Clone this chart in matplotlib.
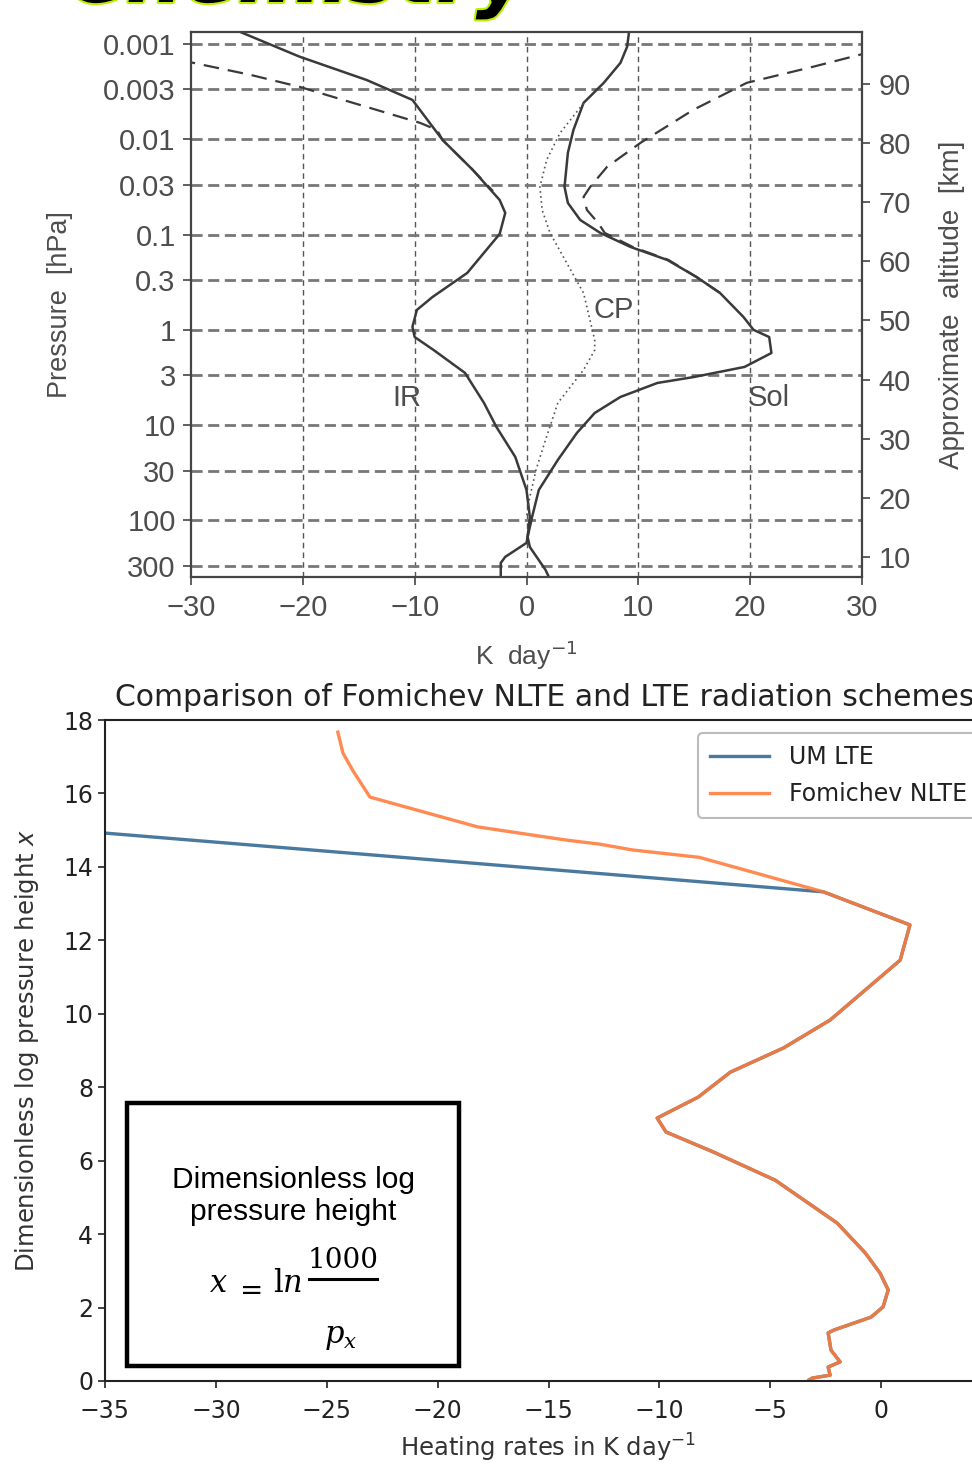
import matplotlib
matplotlib.use("Agg")
import matplotlib.pyplot as plt
from matplotlib import font_manager
from matplotlib.patches import Rectangle
from matplotlib.lines import Line2D
import matplotlib.patheffects as pe

# ---------------- data: top panel (heating rates vs pressure) ----------------
ir_p = [0.00070, 0.00136, 0.00239, 0.00387, 0.0102, 0.021, 0.0434, 0.0593, 0.0986,
        0.253, 0.452, 0.618, 0.93, 1.19, 1.63, 2.83, 5.85, 10.4, 21.6, 47.9, 91.8,
        149, 172, 241, 279, 392]
ir_x = [-26.2, -20.3, -14.3, -10.2, -7.5, -4.8, -2.4, -1.9, -2.4,
        -5.3, -8.4, -9.8, -10.2, -10.0, -8.3, -5.5, -3.8, -2.7, -1.0, 0.0, 0.3,
        0.1, 0.0, -1.9, -2.3, -2.3]

ir_nlte_p = [0.00148, 0.00158, 0.00211, 0.00282, 0.00406, 0.00556, 0.00675, 0.0080, 0.0102, 0.021, 0.035]
ir_nlte_x = [-31.0, -29.8, -24.7, -20.3, -15.8, -11.9, -9.5, -8.0, -7.5, -4.8, -3.0]

sol_p = [0.00070, 0.00107, 0.00158, 0.00257, 0.00416, 0.00798, 0.0139, 0.0316, 0.0466,
         0.0703, 0.0962, 0.135, 0.185, 0.279, 0.41, 0.733, 1.0, 1.19, 1.75, 2.45,
         3.12, 3.61, 5.06, 7.45, 12.1, 23.2, 47.9, 91.8, 149, 190, 330, 392]
sol_x = [9.2, 9.0, 8.4, 6.9, 5.1, 4.2, 3.7, 3.4, 3.7,
         4.8, 6.6, 9.3, 12.6, 15.2, 17.3, 19.4, 20.3, 21.7, 21.9, 19.5,
         15.0, 11.7, 8.4, 6.1, 4.5, 2.8, 1.1, 0.5, 0.1, 0.3, 1.7, 2.0]

sol_nlte_p = [0.00118, 0.0013, 0.00174, 0.00256, 0.00493, 0.0109, 0.0195, 0.0316, 0.0403,
              0.0552, 0.0755, 0.0962, 0.135, 0.185, 0.279, 0.41]
sol_nlte_x = [31.0, 29.8, 25.6, 19.7, 14.9, 10.2, 7.2, 5.7, 5.1,
              5.4, 6.4, 7.0, 9.5, 12.7, 15.2, 17.3]

cp_p = [0.0042, 0.0086, 0.0165, 0.0316, 0.0552, 0.0962, 0.199, 0.41, 1.28, 1.63,
        2.64, 5.85, 14.3, 29.5, 56.6, 91.8]
cp_x = [5.1, 3.0, 1.8, 1.2, 1.4, 2.1, 3.6, 5.1, 6.1, 6.1,
        5.1, 2.8, 1.7, 0.85, 0.3, 0.0]

p_ticks = [0.001, 0.003, 0.01, 0.03, 0.1, 0.3, 1, 3, 10, 30, 100, 300]
p_labels = ["0.001", "0.003", "0.01", "0.03", "0.1", "0.3", "1", "3", "10", "30", "100", "300"]
alt_ticks = [10, 20, 30, 40, 50, 60, 70, 80, 90]
k_ticks = [-30, -20, -10, 0, 10, 20, 30]
k_labels = ["\u221230", "\u221220", "\u221210", "0", "10", "20", "30"]

# ---------------- data: bottom panel (heating rates vs log-pressure height) ----------------
lower_x = [-2.6, 1.3, 0.86, -2.3, -4.4, -6.8, -8.25, -10.1, -9.7, -7.58, -4.78, -1.98,
           -0.72, -0.05, 0.32, 0.09, -0.45, -2.12, -2.39, -2.26, -1.85, -2.39, -2.3, -3.1, -3.25]
lower_y = [13.32, 12.42, 11.46, 9.83, 9.07, 8.41, 7.73, 7.16, 6.78, 6.24, 5.47, 4.30,
           3.49, 2.94, 2.48, 2.02, 1.74, 1.39, 1.31, 0.84, 0.52, 0.38, 0.16, 0.08, 0.03]
lte_top_x = [-36.0]
lte_top_y = [14.97]
nlte_top_x = [-24.5, -24.27, -23.8, -23.05, -18.2, -14.2, -12.7, -11.2, -8.2]
nlte_top_y = [17.67, 17.1, 16.6, 15.9, 15.09, 14.73, 14.62, 14.46, 14.26]
x_ticks_b = [-35, -30, -25, -20, -15, -10, -5, 0]
y_ticks_b = [0, 2, 4, 6, 8, 10, 12, 14, 16, 18]

# ---------------- fonts ----------------
avail = {f.name for f in font_manager.fontManager.ttflist}
narrow = "Liberation Sans Narrow" if "Liberation Sans Narrow" in avail else "Liberation Sans"
GRAY = "#4d4d4d"

W, H = 972, 1465
fig = plt.figure(figsize=(W / 100, H / 100), dpi=100)

def fx(px):
    return px / W

def fy(py):
    return 1 - py / H

# top cropped heading (only the lower edge is visible in the reference)
fig.text(fx(528), fy(2), "Chemistry", ha="right", va="baseline", fontsize=58,
         fontweight="bold", style="italic", color="black", family="DejaVu Sans",
         path_effects=[pe.withStroke(linewidth=3, foreground="#b8f000")])

# ---------------- top panel ----------------
ax1 = fig.add_axes([fx(191), fy(577), fx(862) - fx(191), fy(32) - fy(577)])
ax1.set_yscale("log")
ax1.set_xlim(-30, 30)
ax1.set_ylim(392, 0.00075)
lc = "#3a3a3a"
ax1.plot(ir_x, ir_p, color=lc, lw=1.8)
ax1.plot(ir_nlte_x, ir_nlte_p, color=lc, lw=1.6, dashes=(7, 4))
ax1.plot(sol_x, sol_p, color=lc, lw=1.8)
ax1.plot(sol_nlte_x, sol_nlte_p, color=lc, lw=1.6, dashes=(7, 4))
ax1.plot(cp_x, cp_p, color="#555555", lw=1.2, linestyle=(0, (1, 2)))
ax1.set_yticks(p_ticks)
ax1.set_yticklabels(p_labels)
ax1.yaxis.set_minor_locator(matplotlib.ticker.NullLocator())
ax1.set_xticks(k_ticks)
ax1.set_xticklabels(k_labels)
for x in [-20, -10, 0, 10, 20]:
    ax1.axvline(x, color="#555555", lw=1.0, dashes=(4, 3), zorder=0)
for p in p_ticks:
    ax1.axhline(p, color="#777777", lw=2.0, dashes=(4, 2), zorder=0)
for s in ax1.spines.values():
    s.set_color("#444444")
    s.set_linewidth(1.6)
ax1.tick_params(axis="both", direction="out", length=6, width=1.2, color="#444444",
                labelcolor=GRAY, labelsize=21)
ax1.tick_params(axis="x", pad=6)
ax1.tick_params(axis="y", pad=5)
for lab in ax1.get_xticklabels() + ax1.get_yticklabels():
    lab.set_family(narrow)
ax1.set_ylabel("Pressure  [hPa]", family=narrow, fontsize=19.5, color=GRAY, labelpad=22)
ax1.set_xlabel("K  day$^{-1}$", family=narrow, fontsize=19, color=GRAY, labelpad=12)
ax1.text(-10.7, 5.2, "IR", family=narrow, fontsize=21, color=GRAY, ha="center", va="center")
ax1.text(7.8, 0.62, "CP", family=narrow, fontsize=21, color=GRAY, ha="center", va="center")
ax1.text(21.7, 5.2, "Sol", family=narrow, fontsize=21, color=GRAY, ha="center", va="center")

ax2 = ax1.twinx()
ax2.set_ylim(6.6, 98.8)
ax2.set_yticks(alt_ticks)
ax2.tick_params(axis="y", direction="out", length=6, width=1.2, color="#444444",
                labelcolor=GRAY, labelsize=21, pad=6)
for lab in ax2.get_yticklabels():
    lab.set_family(narrow)
for s in ax2.spines.values():
    s.set_visible(False)
ax2.set_ylabel("Approximate  altitude  [km]", family=narrow, fontsize=20, color=GRAY, labelpad=20)

# ---------------- bottom panel ----------------
ax3 = fig.add_axes([fx(105), fy(1381), fx(992) - fx(105), fy(720) - fy(1381)])
ax3.set_xlim(-35, 5)
ax3.set_ylim(0, 18)
ax3.plot(lte_top_x + lower_x, lte_top_y + lower_y, color="#4a79a0", lw=2.4, label="UM LTE")
ax3.plot(nlte_top_x + lower_x, nlte_top_y + lower_y, color="#ff7b3a", lw=2.4, alpha=0.88,
         label="Fomichev NLTE")
ax3.set_xticks(x_ticks_b)
ax3.set_yticks(y_ticks_b)
ax3.tick_params(labelsize=17, length=5, width=1.2, color="#222222", labelcolor="#222222")
ax3.tick_params(axis="x", pad=8)
for s in ax3.spines.values():
    s.set_color("#222222")
    s.set_linewidth(1.5)
ax3.set_title("Comparison of Fomichev NLTE and LTE radiation schemes", fontsize=21.5,
              color="#222222", pad=10, x=0.496)
ax3.set_xlabel("Heating rates in K day$^{-1}$", fontsize=17.5, color="#333333", labelpad=6)
ax3.set_ylabel("Dimensionless log pressure height $x$", fontsize=17.5, color="#333333", labelpad=16)
leg = ax3.legend(loc="upper left", bbox_to_anchor=(fx(698), fy(733)),
                 bbox_transform=fig.transFigure, borderaxespad=0, fontsize=17,
                 handlelength=2.5, handletextpad=0.85, frameon=True, fancybox=True,
                 edgecolor="#aaaaaa", borderpad=0.5, labelspacing=0.55)
leg.get_frame().set_linewidth(1.5)
for t in leg.get_texts():
    t.set_color("#222222")

# inset definition box
fig.patches.append(Rectangle((fx(127), fy(1366)), fx(459) - fx(127), fy(1103) - fy(1366),
                             transform=fig.transFigure, facecolor="white", edgecolor="black",
                             linewidth=3.2, zorder=5))
fig.text(fx(293), fy(1196), "Dimensionless log\npressure height", ha="center", va="center",
         fontsize=21.5, family="Liberation Sans", linespacing=1.2, zorder=6)
fig.text(fx(218), fy(1284), "$x$", ha="center", va="center", fontsize=22, zorder=6,
         math_fontfamily="dejavuserif")
fig.text(fx(252), fy(1292), "=", ha="center", va="center", fontsize=20, family="DejaVu Serif", zorder=6)
fig.text(fx(288), fy(1284), r"$\mathrm{l}n$", ha="center", va="center", fontsize=22, zorder=6,
         math_fontfamily="dejavuserif")
fig.text(fx(343), fy(1260), "1000", ha="center", va="center", fontsize=20, family="DejaVu Serif", zorder=6)
fig.lines.append(Line2D([fx(309), fx(377)], [fy(1279), fy(1279)], transform=fig.transFigure,
                        color="black", lw=2.2, zorder=6))
fig.text(fx(341), fy(1338), "$p_x$", ha="center", va="center", fontsize=22, zorder=6,
         math_fontfamily="dejavuserif")

fig.savefig("out.png", dpi=100)
